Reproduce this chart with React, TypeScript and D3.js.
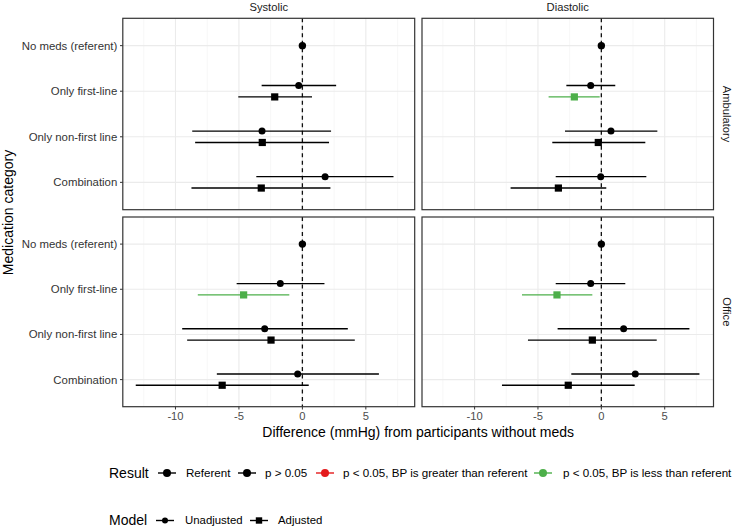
import React from "react";
import * as d3 from "d3";

// ---------- data ----------
const categories = ["No meds (referent)", "Only first-line", "Only non-first line", "Combination"];
const measures = ["Systolic", "Diastolic"];
const settings = ["Ambulatory", "Office"];
const models = ["Unadjusted", "Adjusted"];
const results = ["Referent", "p > 0.05", "p < 0.05, BP is greater than referent", "p < 0.05, BP is less than referent"];
const resultColors = ["#000000", "#000000", "#e41a1c", "#4daf4a"];
const xTicks = [-10, -5, 0, 5];
const xMinor = [-12.5, -7.5, -2.5, 2.5, 7.5];

type Row = { cat: number; model: number; est: number; lo: number; hi: number; res: number };

// model: 0 = Unadjusted, 1 = Adjusted, -1 = referent (centered)
const ambulatorySystolic: Row[] = [
  { cat: 0, model: -1, est: 0, lo: 0, hi: 0, res: 0 },
  { cat: 1, model: 0, est: -0.29, lo: -3.21, hi: 2.66, res: 1 },
  { cat: 1, model: 1, est: -2.18, lo: -5.05, hi: 0.76, res: 1 },
  { cat: 2, model: 0, est: -3.18, lo: -8.68, hi: 2.26, res: 1 },
  { cat: 2, model: 1, est: -3.16, lo: -8.45, hi: 2.1, res: 1 },
  { cat: 3, model: 0, est: 1.79, lo: -3.63, hi: 7.18, res: 1 },
  { cat: 3, model: 1, est: -3.24, lo: -8.74, hi: 2.21, res: 1 },
];
const ambulatoryDiastolic: Row[] = [
  { cat: 0, model: -1, est: 0, lo: 0, hi: 0, res: 0 },
  { cat: 1, model: 0, est: -0.84, lo: -2.76, hi: 1.1, res: 1 },
  { cat: 1, model: 1, est: -2.13, lo: -4.16, hi: -0.13, res: 3 },
  { cat: 2, model: 0, est: 0.76, lo: -2.87, hi: 4.42, res: 1 },
  { cat: 2, model: 1, est: -0.24, lo: -3.87, hi: 3.47, res: 1 },
  { cat: 3, model: 0, est: -0.05, lo: -3.6, hi: 3.55, res: 1 },
  { cat: 3, model: 1, est: -3.39, lo: -7.16, hi: 0.39, res: 1 },
];
const officeSystolic: Row[] = [
  { cat: 0, model: -1, est: 0, lo: 0, hi: 0, res: 0 },
  { cat: 1, model: 0, est: -1.74, lo: -5.18, hi: 1.74, res: 1 },
  { cat: 1, model: 1, est: -4.63, lo: -8.24, hi: -1.03, res: 3 },
  { cat: 2, model: 0, est: -2.97, lo: -9.47, hi: 3.58, res: 1 },
  { cat: 2, model: 1, est: -2.47, lo: -9.08, hi: 4.13, res: 1 },
  { cat: 3, model: 0, est: -0.37, lo: -6.74, hi: 6.03, res: 1 },
  { cat: 3, model: 1, est: -6.32, lo: -13.13, hi: 0.5, res: 1 },
];
const officeDiastolic: Row[] = [
  { cat: 0, model: -1, est: 0, lo: 0, hi: 0, res: 0 },
  { cat: 1, model: 0, est: -0.84, lo: -3.6, hi: 1.89, res: 1 },
  { cat: 1, model: 1, est: -3.5, lo: -6.26, hi: -0.71, res: 3 },
  { cat: 2, model: 0, est: 1.76, lo: -3.45, hi: 6.95, res: 1 },
  { cat: 2, model: 1, est: -0.71, lo: -5.79, hi: 4.37, res: 1 },
  { cat: 3, model: 0, est: 2.68, lo: -2.37, hi: 7.74, res: 1 },
  { cat: 3, model: 1, est: -2.61, lo: -7.84, hi: 2.63, res: 1 },
];
const panelData: Row[][][] = [
  [ambulatorySystolic, ambulatoryDiastolic],
  [officeSystolic, officeDiastolic],
];

// ---------- layout ----------
const W = 732;
const H = 529;
const font = "'Liberation Sans', Arial, Helvetica, sans-serif";
const colX: [number, number][] = [
  [122.8, 414.7],
  [422, 713.5],
];
const rowY: [number, number][] = [
  [18.3, 209.7],
  [217, 406.7],
];
const xDomain: [number, number] = [-14.15, 8.85];

function Panel({ r, c }: { r: number; c: number }) {
  const [x0, x1] = colX[c];
  const [y0, y1] = rowY[r];
  const x = d3.scaleLinear().domain(xDomain).range([x0, x1]);
  const y = d3.scalePoint<number>().domain(d3.range(categories.length)).range([y0, y1]).padding(0.6);
  const step = y.step();
  const dodge = 0.125 * step;
  const rows = panelData[r][c];
  return (
    <g>
      <rect x={x0} y={y0} width={x1 - x0} height={y1 - y0} fill="#ffffff" />
      {xMinor.map((t) => (
        <line key={"mn" + t} x1={x(t)} x2={x(t)} y1={y0} y2={y1} stroke="#f2f2f2" strokeWidth={0.6} />
      ))}
      {xTicks.map((t) => (
        <line key={"mj" + t} x1={x(t)} x2={x(t)} y1={y0} y2={y1} stroke="#ebebeb" strokeWidth={1.1} />
      ))}
      {categories.map((_, i) => (
        <line key={"hy" + i} x1={x0} x2={x1} y1={y(i)!} y2={y(i)!} stroke="#ebebeb" strokeWidth={1.1} />
      ))}
      <line x1={x(0)} x2={x(0)} y1={y0} y2={y1} stroke="#111" strokeWidth={1.3} strokeDasharray="4,3.5" />
      {rows.map((d, i) => {
        const yy = y(d.cat)! + (d.model === 0 ? -dodge : d.model === 1 ? dodge : 0);
        const col = resultColors[d.res];
        return (
          <g key={i}>
            {d.hi > d.lo && (
              <line x1={x(d.lo)} x2={x(d.hi)} y1={yy} y2={yy} stroke={col} strokeWidth={1.4} />
            )}
            {d.model === 1 ? (
              <rect x={x(d.est) - 3.6} y={yy - 3.6} width={7.2} height={7.2} fill={col} />
            ) : (
              <circle cx={x(d.est)} cy={yy} r={d.model === -1 ? 3.7 : 3.5} fill={col} />
            )}
          </g>
        );
      })}
      <rect x={x0} y={y0} width={x1 - x0} height={y1 - y0} fill="none" stroke="#333333" strokeWidth={1.2} />
      {c === 0 &&
        categories.map((name, i) => (
          <g key={"yl" + i}>
            <line x1={x0 - 2.8} x2={x0} y1={y(i)!} y2={y(i)!} stroke="#333" strokeWidth={1} />
            <text x={x0 - 5.5} y={y(i)!} dy="0.35em" textAnchor="end" fontSize={11.4} fill="#333" fontFamily={font}>
              {name}
            </text>
          </g>
        ))}
      {r === 1 &&
        xTicks.map((t) => (
          <g key={"xl" + t}>
            <line x1={x(t)} x2={x(t)} y1={y1} y2={y1 + 2.8} stroke="#333" strokeWidth={1} />
            <text x={x(t)} y={416} dy="0.35em" textAnchor="middle" fontSize={11.2} fill="#4d4d4d" fontFamily={font}>
              {t < 0 ? "-" + Math.abs(t) : String(t)}
            </text>
          </g>
        ))}
      {r === 0 && (
        <text x={(x0 + x1) / 2} y={7} dy="0.35em" textAnchor="middle" fontSize={11.2} fill="#1a1a1a" fontFamily={font}>
          {measures[c]}
        </text>
      )}
      {c === 1 && (
        <text
          transform={`translate(${726.5},${(y0 + y1) / 2}) rotate(90)`}
          dy="0.35em"
          textAnchor="middle"
          fontSize={11.2}
          fill="#1a1a1a"
          fontFamily={font}
        >
          {settings[r]}
        </text>
      )}
    </g>
  );
}

function resColors(i: number) {
  return resultColors[i];
}

function Legend() {
  const yRes = 473;
  const yMod = 520.5;
  const resKeys = [167, 247, 325, 543];
  const resLabels = [186, 265, 343, 563];
  const modKeys = [165, 259];
  const modLabels = [185, 278];
  return (
    <g fontFamily={font}>
      <text x={109} y={yRes} dy="0.35em" fontSize={14} fill="#000">Result</text>
      {results.map((lab, i) => (
        <g key={lab}>
          <line x1={resKeys[i] - 9} x2={resKeys[i] + 9} y1={yRes} y2={yRes} stroke={resColors(i)} strokeWidth={1.4} />
          <circle cx={resKeys[i]} cy={yRes} r={4} fill={resColors(i)} />
          <text x={resLabels[i]} y={yRes} dy="0.35em" fontSize={11.6} fill="#000">{lab}</text>
        </g>
      ))}
      <text x={109} y={yMod} dy="0.35em" fontSize={14} fill="#000">Model</text>
      {models.map((lab, i) => (
        <g key={lab}>
          <line x1={modKeys[i] - 9} x2={modKeys[i] + 9} y1={yMod} y2={yMod} stroke="#000" strokeWidth={1.4} />
          {i === 0 ? (
            <circle cx={modKeys[i]} cy={yMod} r={3} fill="#000" />
          ) : (
            <rect x={modKeys[i] - 3.2} y={yMod - 3.2} width={6.4} height={6.4} fill="#000" />
          )}
          <text x={modLabels[i]} y={yMod} dy="0.35em" fontSize={11.4} fill="#000">{lab}</text>
        </g>
      ))}
    </g>
  );
}

export default function App() {
  return (
    <svg
      width={W}
      height={H}
      viewBox={`0 0 ${W} ${H}`}
      style={{ position: "absolute", left: 0, top: 0, background: "#fff" }}
    >
      <rect x={0} y={0} width={W} height={H} fill="#fff" />
      {[0, 1].map((r) => [0, 1].map((c) => <Panel key={r + "-" + c} r={r} c={c} />))}
      <text
        x={(colX[0][0] + colX[1][1]) / 2}
        y={432}
        dy="0.35em"
        textAnchor="middle"
        fontSize={14}
        fill="#000"
        fontFamily={font}
      >
        Difference (mmHg) from participants without meds
      </text>
      <text
        transform={`translate(8,${(rowY[0][0] + rowY[1][1]) / 2}) rotate(-90)`}
        dy="0.35em"
        textAnchor="middle"
        fontSize={14}
        fill="#000"
        fontFamily={font}
      >
        Medication category
      </text>
      <Legend />
    </svg>
  );
}
